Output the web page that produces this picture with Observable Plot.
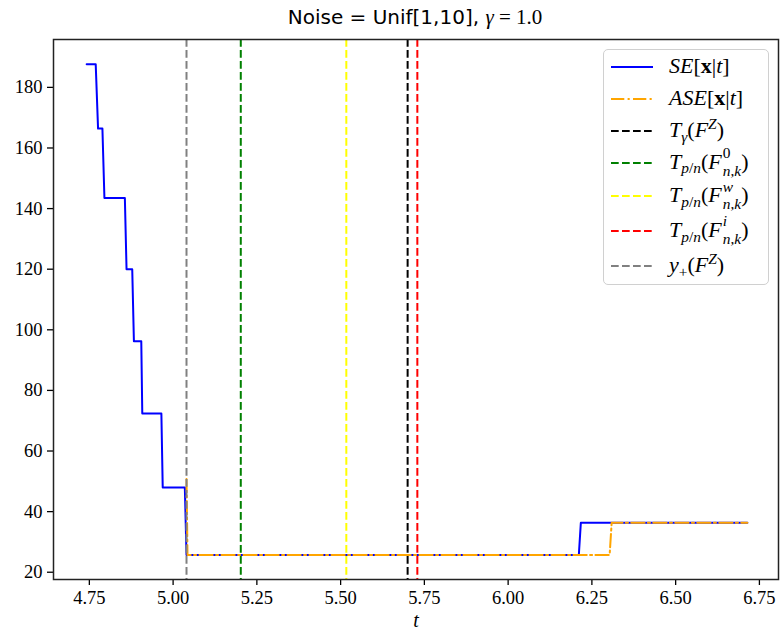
<!DOCTYPE html>
<html>
<head>
<meta charset="utf-8">
<script src="https://cdn.jsdelivr.net/npm/d3@7"></script>
<script src="https://cdn.jsdelivr.net/npm/@observablehq/plot@0.6"></script>
<style>
  body { margin: 0; background: white; width: 780px; height: 638px; position: relative; overflow: hidden; }
  #title { height: 30px; line-height: 30px; padding-top: 2px; box-sizing: border-box; text-align: left; position: relative; }
  #title span.inner { position: absolute; left: 415px; transform: translateX(-50%); white-space: nowrap; font-family: "DejaVu Sans", sans-serif; font-size: 20px; }
  .m { font-family: "Liberation Serif", "DejaVu Serif", serif; font-size: 21px; }
  #legend { position: absolute; left: 603px; top: 49px; width: 166px; height: 236px; box-sizing: border-box; border: 1.3px solid #d0d0d0; border-radius: 5px; background: rgba(255,255,255,0.85); }
  .row { position: absolute; left: 0; height: 30px; width: 166px; }
  .row svg { position: absolute; left: 6px; top: 14px; }
  .row .lab { position: absolute; left: 65px; top: 0; line-height: 30px; font-family: "Liberation Serif", "DejaVu Serif", serif; font-size: 22px; white-space: nowrap; }
  .ss { position: relative; display: inline-block; font-size: 0.7em; line-height: 1; margin-left: 1px; }
  .sb { position: relative; top: 0.45em; }
  .sp { position: absolute; left: 0; top: -0.7em; }
  .sub1 { font-size: 0.7em; position: relative; top: 0.3em; }
  .sup1 { font-size: 0.7em; position: relative; top: -0.55em; }
</style>
</head>
<body>
<div id="title"><span class="inner">Noise = Unif[1,10], <span class="m"><i>γ</i> = 1.0</span></span></div>
<div id="chart"></div>
<div id="legend"></div>
<script>
// SE[x|t] (blue solid)
const seT = [4.742, 4.769, 4.776, 4.789, 4.795, 4.856, 4.861, 4.878, 4.883, 4.905, 4.908, 4.965, 4.969, 5.035, 5.040, 6.211, 6.217, 6.714];
const seV = [187.6, 187.6, 166.4, 166.4, 143.5, 143.5, 120.0, 120.0, 96.2, 96.2, 72.4, 72.4, 48.0, 48.0, 25.7, 25.7, 36.3, 36.3];
// ASE[x|t] (orange dash-dot)
const aseT = [5.040, 5.043, 6.303, 6.309, 6.714];
const aseV = [50.8, 25.7, 25.7, 36.3, 36.3];
// vertical thresholds
const vNames = ["T_gamma", "T_0", "T_w", "T_i", "y_plus"];
const vT = [5.700, 5.202, 5.517, 5.729, 5.040];
const vColors = ["#000000", "#008000", "#ffff00", "#ff0000", "#808080"];
// ticks
const xTicks = [4.75, 5.00, 5.25, 5.50, 5.75, 6.00, 6.25, 6.50, 6.75];
const yTicks = [20, 40, 60, 80, 100, 120, 140, 160, 180];
// legend
const legendLabels = [
  '<i>SE</i>[<b>x</b>|<i>t</i>]',
  '<i>ASE</i>[<b>x</b>|<i>t</i>]',
  '<i>T</i><span class="sub1"><i>γ</i></span>(<i>F</i><span class="sup1"><i>Z</i></span>)',
  '<i>T</i><span class="sub1"><i>p</i>/<i>n</i></span>(<i>F</i><span class="ss"><span class="sb"><i>n</i>,<i>k</i></span><span class="sp">0</span></span>)',
  '<i>T</i><span class="sub1"><i>p</i>/<i>n</i></span>(<i>F</i><span class="ss"><span class="sb"><i>n</i>,<i>k</i></span><span class="sp"><i>w</i></span></span>)',
  '<i>T</i><span class="sub1"><i>p</i>/<i>n</i></span>(<i>F</i><span class="ss"><span class="sb"><i>n</i>,<i>k</i></span><span class="sp"><i>i</i></span></span>)',
  '<i>y</i><span class="sub1">+</span>(<i>F</i><span class="sup1"><i>Z</i></span>)'
];
const legendColors = ["#0000ff", "orange", "#000000", "#008000", "#ffff00", "#ff0000", "#808080"];
const legendDash = ["none", "13.3,3.3,2.1,3.3", "7.7,3.3", "7.7,3.3", "7.7,3.3", "7.7,3.3", "7.7,3.3"];

const seData = seT.map((t, i) => ({t, v: seV[i]}));
const aseData = aseT.map((t, i) => ({t, v: aseV[i]}));
const vData = vT.map((t, i) => ({name: vNames[i], t, c: vColors[i]}));

const SERIF = "Liberation Serif";

const chart = Plot.plot({
  width: 780,
  height: 608,
  marginTop: 9,
  marginLeft: 53,
  marginRight: 2,
  marginBottom: 59,
  x: {domain: [4.643, 6.807]},
  y: {domain: [17.6, 195.8]},
  color: {type: "identity"},
  style: {fontFamily: SERIF, fontSize: "18px", background: "white", color: "black"},
  marks: [
    Plot.axisX({ticks: xTicks, tickSize: 6, tickPadding: 5, tickFormat: d => d.toFixed(2), label: null, strokeWidth: 1.3, fontFamily: SERIF, fontSize: 18.5}),
    Plot.axisY({ticks: yTicks, tickSize: 6, tickPadding: 5, label: null, strokeWidth: 1.3, fontFamily: SERIF, fontSize: 18.5}),
    Plot.line(seData, {x: "t", y: "v", stroke: "#0000ff", strokeWidth: 2, curve: "linear"}),
    Plot.line(aseData, {x: "t", y: "v", stroke: "orange", strokeWidth: 2, strokeDasharray: "13.3,3.3,2.1,3.3"}),
    Plot.ruleX(vData, {x: "t", stroke: "c", strokeWidth: 2, strokeDasharray: "7.7,3.3"}),
    Plot.frame({stroke: "#222", strokeWidth: 1.5}),
    Plot.text(["t"], {text: d => d, frameAnchor: "bottom", dy: 47, fontStyle: "italic", fontSize: 20, fontFamily: SERIF})
  ]
});
d3.select(chart).selectAll("text").style("font-family", SERIF);
document.getElementById("chart").appendChild(chart);

const legend = document.getElementById("legend");
const rowTops = [16, 47.7, 80, 111.7, 145.3, 180, 215.3];
legendLabels.forEach((lab, i) => {
  const row = document.createElement("div");
  row.className = "row";
  row.style.top = (rowTops[i] - 15) + "px";
  const dash = legendDash[i] === "none" ? "" : `stroke-dasharray="${legendDash[i]}"`;
  row.innerHTML = `<svg width="44" height="4"><line x1="1" y1="2" x2="43" y2="2" stroke="${legendColors[i]}" stroke-width="2" ${dash}/></svg><span class="lab">${lab}</span>`;
  legend.appendChild(row);
});
</script>
</body>
</html>
